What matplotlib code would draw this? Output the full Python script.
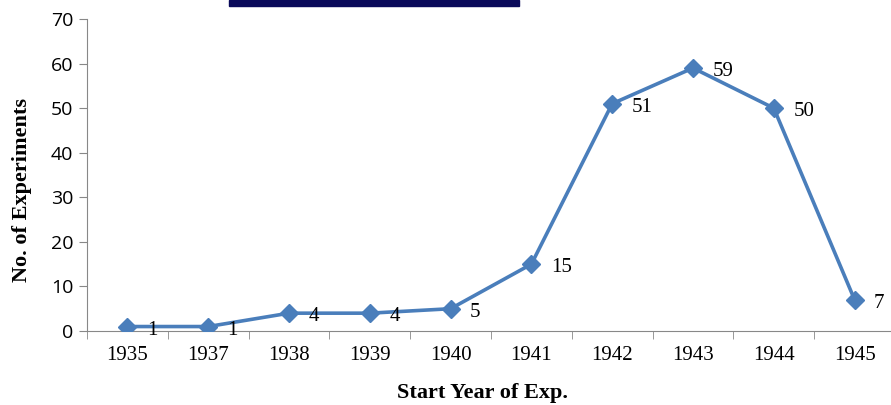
import matplotlib.pyplot as plt
from matplotlib.patches import Rectangle

years = ["1935", "1937", "1938", "1939", "1940", "1941", "1942", "1943", "1944", "1945"]
counts = [1, 1, 4, 4, 5, 15, 51, 59, 50, 7]
yticks = [0, 10, 20, 30, 40, 50, 60, 70]

fig = plt.figure(figsize=(8.91, 4.05), dpi=100)
ax = fig.add_axes([87/891, 1-331/405, 808/891, 312/405])

x = list(range(len(years)))
ax.plot(x, counts, color="#4a7ebb", lw=2.6, marker="D", markersize=9, zorder=3)
for i, v in zip(x, counts):
    ax.annotate(str(v), (i, v), xytext=(14, -2.5), textcoords="offset points",
                fontsize=15, family="Liberation Serif", va="center", ha="left")

ax.set_xlim(-0.5, len(years) - 0.5)
ax.set_ylim(0, 70)
ax.set_yticks(yticks)
ax.set_yticklabels([str(t) for t in yticks], family="Open Sans", fontsize=14)
ax.set_xticks(x)
ax.set_xticklabels(years, family="Liberation Serif", fontsize=15)
ax.set_xticks([i - 0.5 for i in x] + [len(years) - 0.5], minor=True)
ax.tick_params(axis="x", which="major", length=0, pad=11)
ax.tick_params(axis="x", which="minor", length=6, color="#888888")
ax.tick_params(axis="y", length=6, color="#888888", pad=4)

for s in ["top", "right"]:
    ax.spines[s].set_visible(False)
ax.spines["left"].set_color("#888888")
ax.spines["bottom"].set_color("#888888")

# etiquetas de los ejes colocadas a mano
ax.set_xlabel("Start Year of Exp.", family="Liberation Serif", fontsize=16,
              fontweight="bold")
ax.xaxis.set_label_coords(0.489, -0.2, transform=ax.transAxes)
ax.xaxis.label.set_va("center")
ax.set_ylabel("No. of Experiments", family="Liberation Serif", fontsize=16,
              fontweight="bold")
ax.yaxis.set_label_coords(-65/808, 0.452)
ax.yaxis.label.set_va("center")

# barra azul oscura arriba
fig.patches.append(Rectangle((229/891, 1-6/405), 290/891, 6/405,
                             transform=fig.transFigure, color="#0a0a5a"))

fig.savefig("out.png", dpi=100)
